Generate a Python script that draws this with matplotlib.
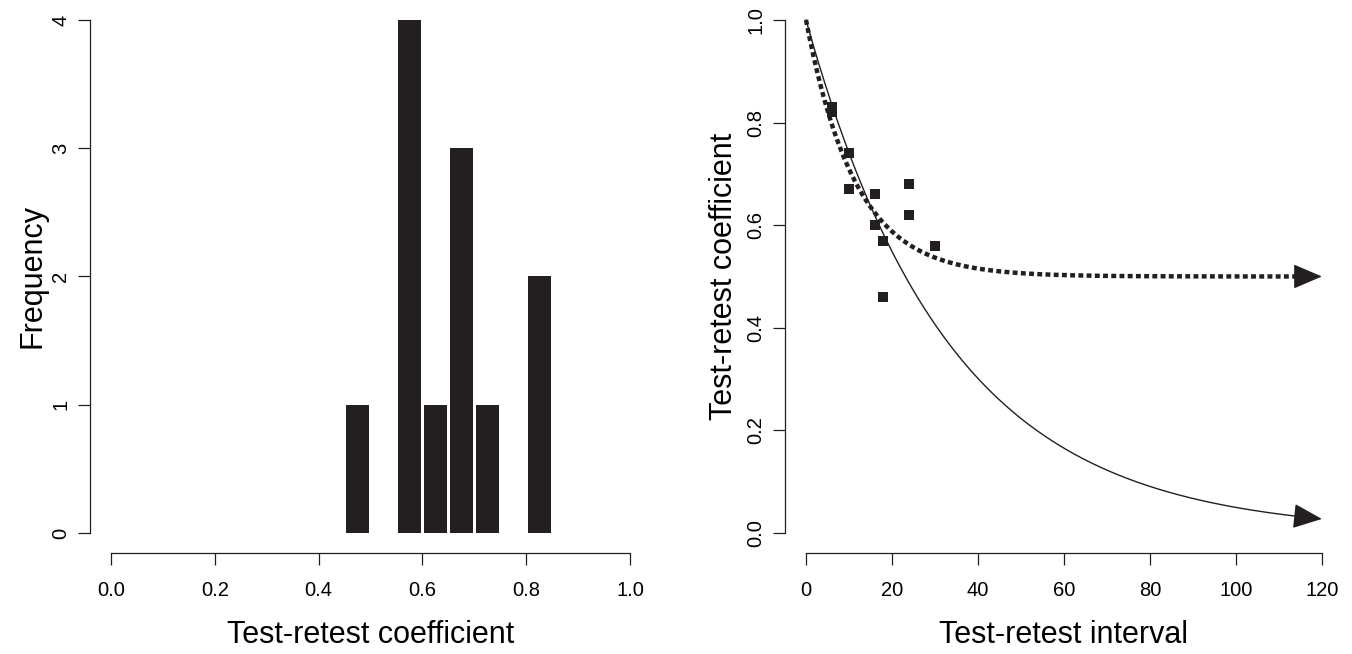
import numpy as np
import matplotlib.pyplot as plt
from matplotlib.patches import FancyArrowPatch

plt.rcParams['font.family'] = ['Liberation Sans', 'DejaVu Sans']

# histogram of test-retest coefficients (bins of width 0.05)
bin_left = [0.45, 0.55, 0.60, 0.65, 0.70, 0.80]
freq = [1, 4, 1, 3, 1, 2]

# test-retest interval vs coefficient
interval = [6, 6, 10, 10, 16, 16, 18, 18, 24, 24, 30]
coef = [0.83, 0.82, 0.74, 0.67, 0.66, 0.60, 0.57, 0.46, 0.68, 0.62, 0.56]

# decay curves: full decay and decay to a stable level
k_full = 0.030
k_stable = 0.087
stable_level = 0.5

ink = '#231f20'


def r_style(ax, xb, yb):
    # base R look: detached L-shaped axes limited to the tick range
    for s in ['top', 'right']:
        ax.spines[s].set_visible(False)
    ax.spines['left'].set_bounds(*yb)
    ax.spines['bottom'].set_bounds(*xb)
    for s in ['left', 'bottom']:
        ax.spines[s].set_linewidth(0.9)
        ax.spines[s].set_color(ink)
    ax.tick_params(direction='out', length=8.5, width=0.9, labelsize=14.5, color=ink)
    ax.tick_params(axis='x', pad=11)
    ax.tick_params(axis='y', pad=6, labelrotation=90)
    for lab in ax.get_yticklabels():
        lab.set_va('center')


fig = plt.figure(figsize=(13.52, 6.54), dpi=100)
ax1 = fig.add_axes([0.0667, 0.1537, 0.4146, 0.8471])
ax2 = fig.add_axes([0.5809, 0.1537, 0.4121, 0.8471])

# left: histogram
bw = 0.044
ax1.bar(np.array(bin_left) + 0.0255, freq, width=bw, color=ink, linewidth=0)
ax1.set_xlim(-0.04, 1.04)
ax1.set_ylim(-0.16, 4.16)
ax1.set_xticks([0.0, 0.2, 0.4, 0.6, 0.8, 1.0])
ax1.set_xticklabels(['0.0', '0.2', '0.4', '0.6', '0.8', '1.0'])
ax1.set_yticks([0, 1, 2, 3, 4])
r_style(ax1, (0, 1), (0, 4))
ax1.set_xlabel('Test-retest coefficient', fontsize=22)
ax1.set_ylabel('Frequency', fontsize=22)
ax1.xaxis.set_label_coords(0.5, -0.12)
ax1.yaxis.set_label_coords(-0.077, 0.5)

# right: scatter with decay curves
t = np.linspace(0, 116, 400)
full = np.exp(-k_full * t)
stable = stable_level + (1 - stable_level) * np.exp(-k_stable * t)
ax2.plot(t, full, color=ink, lw=1.0)
ax2.plot(t, stable, color=ink, lw=3.2, linestyle=(0, (1.1, 0.75)))
ax2.plot(interval, coef, 's', color=ink, markersize=7.5, markeredgewidth=0)

t_end = 120
for curve_end, curve_at in [
        (np.exp(-k_full * t_end), np.exp(-k_full * 115)),
        (stable_level + (1 - stable_level) * np.exp(-k_stable * t_end), stable[-1])]:
    ax2.add_patch(FancyArrowPatch((115, curve_at), (t_end, curve_end),
                                  arrowstyle='-|>,head_length=1.4,head_width=0.6',
                                  mutation_scale=13, color=ink, lw=1.0,
                                  shrinkA=0, shrinkB=0))

ax2.set_xlim(-4.8, 124.8)
ax2.set_ylim(-0.04, 1.04)
ax2.set_xticks([0, 20, 40, 60, 80, 100, 120])
ax2.set_yticks([0.0, 0.2, 0.4, 0.6, 0.8, 1.0])
ax2.set_yticklabels(['0.0', '0.2', '0.4', '0.6', '0.8', '1.0'])
r_style(ax2, (0, 120), (0, 1))
ax2.set_xlabel('Test-retest interval', fontsize=22)
ax2.set_ylabel('Test-retest coefficient', fontsize=22)
ax2.xaxis.set_label_coords(0.5, -0.12)
ax2.yaxis.set_label_coords(-0.083, 0.5)

fig.savefig('out.png', dpi=100)
